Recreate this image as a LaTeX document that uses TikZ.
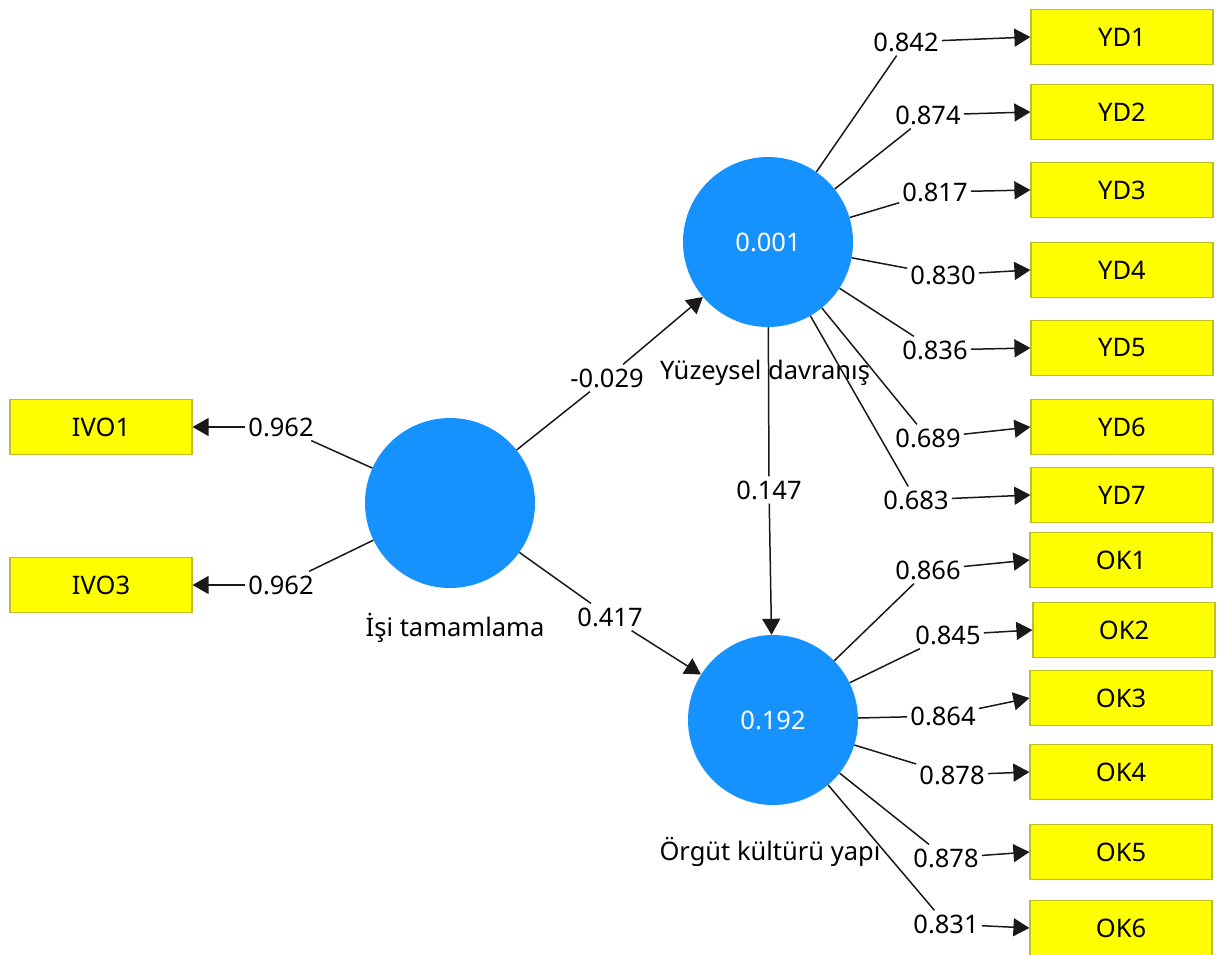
\documentclass[tikz,border=0pt]{standalone}
\usepackage{fontspec}
\setmainfont{Noto Sans}
\usetikzlibrary{arrows.meta}
\definecolor{lvblue}{RGB}{22,146,255}
\definecolor{indyellow}{RGB}{255,255,0}
\definecolor{indedge}{RGB}{190,190,40}
\newcommand{\plsfont}{\fontsize{25.5}{30}\selectfont}
\tikzset{
  lv/.style={
    circle,
    fill=lvblue,
    minimum size=170pt,
    inner sep=0pt,
    text=white,
    font=\plsfont
  },
  ind/.style={
    draw=indedge,
    line width=1.2pt,
    fill=indyellow,
    minimum width=182pt,
    minimum height=55pt,
    inner sep=0pt,
    font=\plsfont
  },
  wt/.style={font=\plsfont, inner xsep=3pt, inner ysep=4pt},
  lvname/.style={font=\plsfont, inner sep=0pt},
  link/.style={draw=black!90, line width=1.5pt},
  arr/.style={link, -{Triangle[length=16pt,width=18pt]}},
}

\begin{document}
\begin{tikzpicture}[x=1pt,y=-1pt]
  \useasboundingbox (0,0) rectangle (1220,955);

  % latent variables
  \node[lv] (isi) at (450,503) {};
  \node[lv] (yuz) at (768,242) {0.001};
  \node[lv] (org) at (773,720) {0.192};
  \node[lvname] (isiname) at (455,628) {İşi tamamlama};
  \node[lvname] (yuzname) at (765,373) {Yüzeysel davranış};
  \node[lvname] (orgname) at (770,852) {Örgüt kültürü yapı};

  % inner model
  \node[wt] (p1) at (607,378) {-0.029};
  \node[wt] (p2) at (610,617) {0.417};
  \node[wt] (p3) at (769,490) {0.147};
  \draw[link] (isi) -- (p1);
  \draw[arr] (p1) -- (yuz);
  \draw[link] (isi) -- (p2);
  \draw[arr] (p2) -- (org);
  \draw[link] (yuz) -- (p3);
  \draw[arr] (p3) -- (org);

  % IVO indicators
  \foreach \n/\y in {1/427,3/585} {
    \node[ind] (IVO\n) at (101,\y) {IVO\n};
    \node[wt] (wi\n) at (281,\y) {0.962};
    \draw[link] (isi) -- (wi\n);
    \draw[arr] (wi\n) -- (IVO\n.east);
  }

  % YD indicators
  \foreach \n/\y/\lx/\ly/\v in {1/37/906/42/0.842, 2/112/928/115/0.874, 3/190/935/192/0.817,
      4/270/943/275/0.830, 5/348/935/350/0.836, 6/427/928/438/0.689, 7/495/916/500/0.683} {
    \node[ind] (YD\n) at (1122,\y) {YD\n};
    \node[wt] (wy\n) at (\lx,\ly) {\v};
    \draw[link] (yuz) -- (wy\n);
    \draw[arr] (wy\n) -- (YD\n.west);
  }

  % OK indicators
  \foreach \n/\bx/\y/\lx/\ly/\v in {1/1121/560/928/570/0.866, 2/1124/630/948/635/0.845,
      3/1121/698/943/716/0.864, 4/1121/772/952/775/0.878, 5/1121/852/946/858/0.878,
      6/1121/928/946/924/0.831} {
    \node[ind] (OK\n) at (\bx,\y) {OK\n};
    \node[wt] (wo\n) at (\lx,\ly) {\v};
    \draw[link] (org) -- (wo\n);
    \draw[arr] (wo\n) -- (OK\n.west);
  }
\end{tikzpicture}
\end{document}
